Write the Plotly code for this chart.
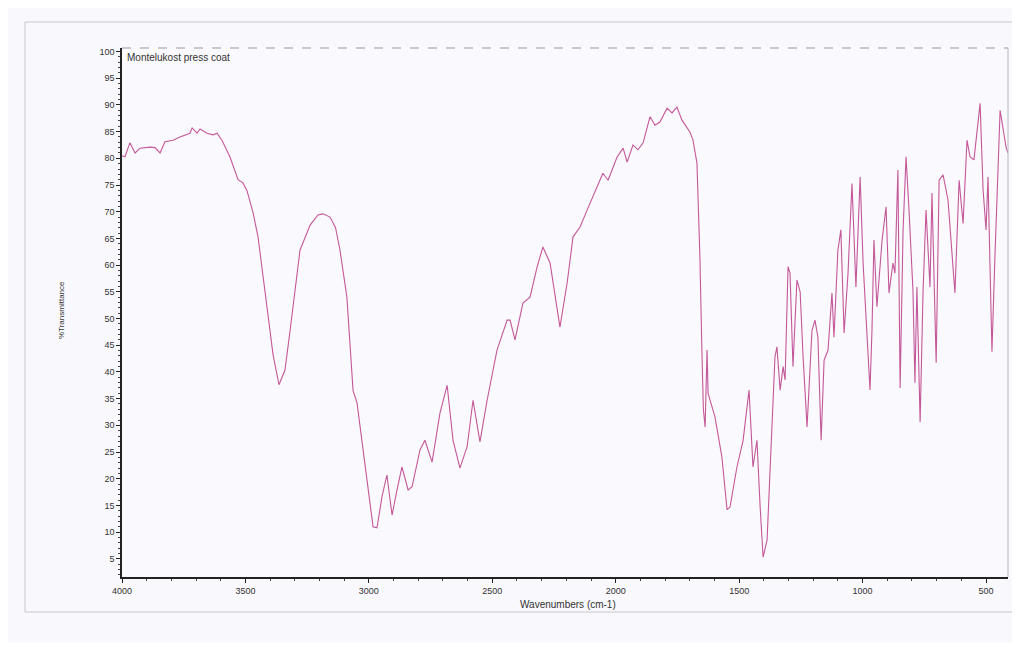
import plotly.graph_objects as go

# IR spectrum (wavenumber cm-1, %T)
wavenumbers = [4000, 3988, 3968, 3947, 3927, 3887, 3866, 3846, 3826, 3793, 3765, 3725, 3716, 3696, 3684,
               3656, 3631, 3615, 3595, 3563, 3530, 3510, 3494, 3469, 3449, 3421, 3388, 3364, 3340, 3319,
               3279, 3238, 3206, 3186, 3157, 3135, 3117, 3089, 3064, 3048, 3024, 2983, 2967, 2947, 2927,
               2906, 2886, 2866, 2841, 2825, 2793, 2773, 2744, 2712, 2683, 2659, 2631, 2602, 2578, 2550,
               2521, 2500, 2481, 2440, 2428, 2408, 2376, 2347, 2319, 2295, 2266, 2226, 2197, 2173, 2145,
               2116, 2076, 2052, 2031, 1995, 1970, 1954, 1930, 1910, 1889, 1861, 1841, 1821, 1792, 1772,
               1752, 1732, 1699, 1687, 1671, 1659, 1651, 1645, 1638, 1630, 1626, 1598, 1570, 1549, 1537,
               1509, 1484, 1460, 1444, 1428, 1415, 1403, 1387, 1375, 1355, 1347, 1334, 1322, 1314, 1302,
               1294, 1282, 1266, 1253, 1241, 1225, 1205, 1193, 1181, 1168, 1156, 1140, 1124, 1116, 1100,
               1088, 1075, 1059, 1043, 1027, 1010, 998, 982, 970, 962, 954, 942, 921, 905, 893,
               877, 869, 857, 848, 836, 824, 812, 796, 788, 780, 767, 755, 743, 727, 719,
               702, 690, 674, 654, 626, 609, 593, 577, 565, 549, 524, 512, 500, 492, 476,
               464, 443, 419, 411]
transmittance = [80.5, 80.3, 82.9, 81.0, 81.9, 82.1, 82.0, 81.0, 83.1, 83.4, 84.0, 84.7, 85.7, 84.7, 85.5,
                 84.7, 84.4, 84.7, 83.4, 80.3, 76.0, 75.4, 74.0, 69.8, 65.3, 55.3, 43.2, 37.6, 40.3, 47.8,
                 62.8, 67.5, 69.4, 69.6, 69.0, 67.0, 62.8, 54.0, 36.5, 34.2, 26.0, 11.0, 10.8, 16.6, 20.7,
                 13.2, 17.9, 22.2, 17.9, 18.5, 25.4, 27.2, 23.1, 32.3, 37.5, 27.2, 22.0, 26.0, 34.7, 26.9,
                 34.7, 40.0, 44.1, 49.7, 49.7, 46.0, 52.9, 54.0, 59.6, 63.4, 60.4, 48.4, 56.6, 65.3, 67.1,
                 70.3, 74.6, 77.2, 75.9, 80.2, 81.9, 79.3, 82.5, 81.6, 82.9, 87.8, 86.2, 86.8, 89.4, 88.5,
                 89.6, 87.2, 84.9, 83.4, 79.1, 61.5, 44.1, 33.0, 29.7, 44.1, 36.0, 31.6, 24.1, 14.2, 14.7,
                 22.2, 27.2, 36.6, 22.2, 27.2, 14.7, 5.3, 8.5, 21.0, 42.8, 44.7, 36.6, 41.0, 38.5, 59.7,
                 58.5, 41.0, 57.2, 55.0, 42.8, 29.7, 47.8, 49.7, 46.5, 27.2, 42.2, 44.1, 54.8, 46.5, 62.8,
                 66.6, 47.3, 58.5, 75.3, 55.9, 76.5, 60.4, 45.3, 36.6, 47.8, 64.7, 52.2, 64.7, 70.9, 54.8,
                 60.4, 58.5, 77.8, 37.0, 66.6, 80.3, 70.3, 55.3, 38.0, 55.9, 30.6, 55.3, 70.3, 55.9, 73.5,
                 41.7, 75.9, 76.9, 72.2, 54.8, 75.9, 67.8, 83.4, 80.3, 79.7, 90.3, 74.1, 66.6, 76.5, 43.8,
                 61.5, 89.0, 82.1, 81.0]

x_ticks = [4000, 3500, 3000, 2500, 2000, 1500, 1000, 500]
y_ticks = list(range(5, 101, 5))

sample_label = "Montelukost press coat"
x_title = "Wavenumbers (cm-1)"
y_title = "%Transmittance"

# the page adds an 8px body margin, so the figure is sized/positioned accordingly
OFF = 8
W, H = 1020 - OFF, 657 - OFF
L, T = 122 - OFF, 48 - OFF
R = W - (1008 - OFF)
B = H - (577 - OFF)
pw, ph = W - L - R, H - T - B


def px(xp):  # reference window pixel -> paper fraction
    return (xp - OFF - L) / pw


def py(yp):
    return (H - B - (yp - OFF)) / ph


fig = go.Figure()
fig.add_trace(go.Scatter(
    x=wavenumbers, y=transmittance, mode="lines",
    line=dict(color="#c4579a", width=1.1), showlegend=False, hoverinfo="x+y"))

tickfont = dict(family="Liberation Sans, Arial, sans-serif", size=9, color="#333333")

fig.update_layout(
    width=W, height=H,
    margin=dict(l=L, r=R, t=T, b=B),
    paper_bgcolor="#f9f8fc",
    plot_bgcolor="#faf9fd",
    xaxis=dict(
        range=[4000, 411], tickvals=x_ticks, ticktext=[str(v) for v in x_ticks],
        ticks="outside", ticklen=4, tickwidth=1, tickcolor="#222",
        minor=dict(dtick=100, ticks="outside", ticklen=2, tickcolor="#444"),
        showline=True, linecolor="#222", linewidth=1.5, mirror=False,
        showgrid=False, zeroline=False, tickfont=tickfont),
    yaxis=dict(
        range=[1.6, 100.66], tickvals=y_ticks, ticktext=[str(v) for v in y_ticks],
        ticks="outside", ticklen=4, tickwidth=1, tickcolor="#222",
        minor=dict(dtick=1, ticks="outside", ticklen=2, tickcolor="#444"),
        showline=True, linecolor="#222", linewidth=1.5,
        showgrid=False, zeroline=False, tickfont=tickfont),
    shapes=[
        # white strip at the bottom
        dict(type="rect", xref="paper", yref="paper", x0=px(OFF), x1=px(1020), y0=py(643), y1=py(657),
             fillcolor="#ffffff", line=dict(width=0), layer="below"),
        # outer print frame
        dict(type="rect", xref="paper", yref="paper", x0=px(25), x1=px(1015), y0=py(22), y1=py(612),
             line=dict(color="#c8c8cc", width=1)),
        # top and right plot borders (faint)
        dict(type="line", xref="paper", yref="paper", x0=0, x1=1, y0=1, y1=1,
             line=dict(color="#9a9aa0", width=1, dash="dash")),
        dict(type="line", xref="paper", yref="paper", x0=1, x1=1, y0=0, y1=1,
             line=dict(color="#b8b8bc", width=1)),
    ],
    annotations=[
        dict(text=sample_label, xref="paper", yref="paper", x=px(125), y=py(57),
             xanchor="left", yanchor="middle", showarrow=False,
             font=dict(family="Liberation Sans, Arial, sans-serif", size=10, color="#333")),
        dict(text=x_title, xref="paper", yref="paper", x=px(568), y=py(604),
             xanchor="center", yanchor="middle", showarrow=False,
             font=dict(family="Liberation Sans, Arial, sans-serif", size=10, color="#333")),
        dict(text=y_title, xref="paper", yref="paper", x=px(61), y=py(310),
             xanchor="center", yanchor="middle", textangle=-90, showarrow=False,
             font=dict(family="Liberation Sans, Arial, sans-serif", size=8, color="#333")),
    ],
)

fig.write_html("out.html")
